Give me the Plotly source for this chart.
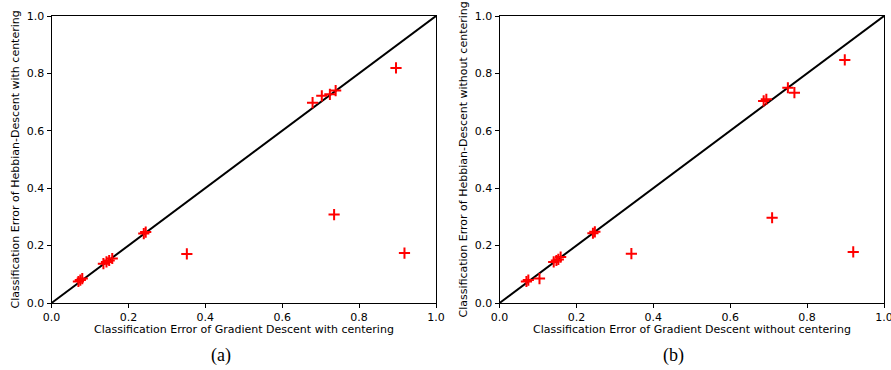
import plotly.graph_objects as go

# Panel (a): with centering
gd_with = [0.070, 0.075, 0.080, 0.135, 0.143, 0.150, 0.158, 0.240, 0.245, 0.352,
           0.679, 0.703, 0.724, 0.739, 0.896, 0.735, 0.918]
hd_with = [0.075, 0.080, 0.085, 0.137, 0.143, 0.148, 0.155, 0.242, 0.247, 0.171,
           0.698, 0.722, 0.727, 0.740, 0.819, 0.308, 0.174]

# Panel (b): without centering
gd_without = [0.070, 0.075, 0.104, 0.141, 0.148, 0.153, 0.159, 0.243, 0.248, 0.343,
              0.687, 0.694, 0.750, 0.767, 0.898, 0.709, 0.920]
hd_without = [0.075, 0.080, 0.085, 0.143, 0.148, 0.152, 0.160, 0.243, 0.248, 0.172,
              0.704, 0.710, 0.750, 0.733, 0.847, 0.297, 0.178]

diag = [0.0, 1.0]
ticks = [0.0, 0.2, 0.4, 0.6, 0.8, 1.0]
tick_text = ["0.0", "0.2", "0.4", "0.6", "0.8", "1.0"]

xlabels = ["Classification Error of Gradient Descent with centering",
           "Classification Error of Gradient Descent without centering"]
ylabels = ["Classification Error of Hebbian-Descent with centering",
           "Classification Error of Hebbian-Descent without centering"]
captions = ["(a)", "(b)"]

W, H = 891, 370
fig = go.Figure()

panels = [(gd_with, hd_with), (gd_without, hd_without)]
xdoms = [[51.5 / W, 436 / W], [499.5 / W, 884 / W]]
ydom = [(H - 303) / H, (H - 16) / H]

for i, (xs, ys) in enumerate(panels):
    xa = "x" if i == 0 else "x2"
    ya = "y" if i == 0 else "y2"
    fig.add_trace(go.Scatter(x=diag, y=diag, mode="lines",
                             line=dict(color="black", width=2),
                             xaxis=xa, yaxis=ya, showlegend=False, hoverinfo="skip"))
    fig.add_trace(go.Scatter(x=xs, y=ys, mode="markers",
                             marker=dict(symbol="cross-thin", size=8,
                                         line=dict(color="red", width=2), color="red"),
                             xaxis=xa, yaxis=ya, showlegend=False, cliponaxis=False))

axis_common = dict(range=[0, 1], tickvals=ticks, ticktext=tick_text, ticks="outside",
                   ticklen=4, tickwidth=1, tickcolor="black", showline=True,
                   linecolor="black", linewidth=1, mirror=True, showgrid=False,
                   zeroline=False, fixedrange=True, automargin=False,
                   ticklabeloverflow="allow",
                   tickfont=dict(family="DejaVu Sans", size=11, color="black"))

fig.update_layout(
    width=W, height=H, margin=dict(l=0, r=0, t=0, b=0),
    paper_bgcolor="white", plot_bgcolor="white",
    xaxis=dict(domain=xdoms[0], anchor="y", **axis_common),
    yaxis=dict(domain=ydom, anchor="x", **axis_common),
    xaxis2=dict(domain=xdoms[1], anchor="y2", **axis_common),
    yaxis2=dict(domain=ydom, anchor="x2", **axis_common),
)

anns = []
for i in range(2):
    cx = (xdoms[i][0] + xdoms[i][1]) / 2
    anns.append(dict(x=cx, y=(H - 329) / H, xref="paper", yref="paper",
                     text=xlabels[i], showarrow=False, xanchor="center", yanchor="middle",
                     font=dict(family="DejaVu Sans", size=11, color="black")))
    ylx = (15 if i == 0 else 463) / W
    anns.append(dict(x=ylx, y=(ydom[0] + ydom[1]) / 2, xref="paper", yref="paper",
                     text=ylabels[i], showarrow=False, textangle=-90,
                     xanchor="center", yanchor="middle",
                     font=dict(family="DejaVu Sans", size=11, color="black")))
    anns.append(dict(x=(221 if i == 0 else 673) / W, y=(H - 355) / H, xref="paper", yref="paper",
                     text=captions[i], showarrow=False, xanchor="center", yanchor="middle",
                     font=dict(family="Liberation Serif", size=18, color="black")))
fig.update_layout(annotations=anns)

fig.write_html("out.html")
